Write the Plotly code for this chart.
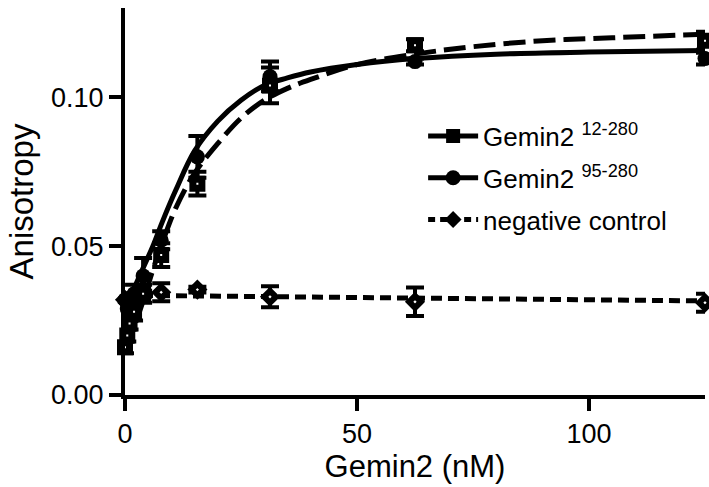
import plotly.graph_objects as go

# ---- data ----
conc = [0, 0.49, 0.98, 1.95, 3.9, 7.8, 15.6, 31.25, 62.5, 125]

g12_y = [0.016, 0.020, 0.024, 0.028, 0.034, 0.047, 0.071, 0.104, 0.1175, 0.119]
g12_err = [0.002, 0.002, 0.002, 0.003, 0.003, 0.004, 0.004, 0.006, 0.002, 0.003]

g95_y = [0.032, 0.029, 0.031, 0.034, 0.040, 0.052, 0.080, 0.107, 0.112, 0.113]
g95_err = [0.002, 0.002, 0.003, 0.003, 0.006, 0.003, 0.007, 0.005, 0.001, 0.002]

neg_y = [0.032, 0.031, 0.032, 0.033, 0.034, 0.0345, 0.0354, 0.033, 0.0313, 0.031]
neg_err = [0.001, 0.001, 0.001, 0.001, 0.001, 0.003, 0.001, 0.0035, 0.0048, 0.003]

# fitted curves
fit12_x = [0, 1, 2, 4, 6, 8, 11, 15, 20, 25, 30, 35, 40, 50, 62.5, 75, 90, 105, 125]
fit12_y = [0.015, 0.019, 0.023, 0.032, 0.042, 0.051, 0.063, 0.0745, 0.0845, 0.093,
           0.099, 0.103, 0.106, 0.111, 0.1145, 0.117, 0.119, 0.120, 0.1212]

fit95_x = [0, 2, 4, 6, 8, 11, 15, 20, 25, 30, 35, 40, 50, 62.5, 80, 100, 125]
fit95_y = [0.029, 0.036, 0.043, 0.050, 0.058, 0.069, 0.082, 0.092, 0.099, 0.104,
           0.1065, 0.1085, 0.111, 0.113, 0.1145, 0.1152, 0.1157]

fitneg_x = [0, 125]
fitneg_y = [0.0335, 0.0316]

names = ["Gemin2 <sup>12-280</sup>", "Gemin2 <sup>95-280</sup>", "negative control"]

x_ticks = [0, 50, 100]
y_ticks = [0.00, 0.05, 0.10]
y_ticktext = ["0.00", "0.05", "0.10"]

FONT = "Liberation Sans, Arial, sans-serif"
BLACK = "black"

fig = go.Figure()

# fit lines
fig.add_trace(go.Scatter(x=fit12_x, y=fit12_y, mode="lines", line_shape="spline",
                         line=dict(color=BLACK, width=5, dash="22px,8px"),
                         showlegend=False, cliponaxis=False, hoverinfo="skip"))
fig.add_trace(go.Scatter(x=fit95_x, y=fit95_y, mode="lines", line_shape="spline",
                         line=dict(color=BLACK, width=5),
                         showlegend=False, cliponaxis=False, hoverinfo="skip"))
fig.add_trace(go.Scatter(x=fitneg_x, y=fitneg_y, mode="lines",
                         line=dict(color=BLACK, width=5, dash="11px,6px"),
                         showlegend=False, cliponaxis=False, hoverinfo="skip"))

eb = dict(type="data", color=BLACK, thickness=4, width=9)

fig.add_trace(go.Scatter(x=conc, y=neg_y, mode="markers",
                         error_y=dict(array=neg_err, **eb),
                         marker=dict(symbol="diamond", size=9, color="white",
                                     line=dict(color=BLACK, width=6)),
                         showlegend=False, cliponaxis=False))
fig.add_trace(go.Scatter(x=conc, y=g95_y, mode="markers",
                         error_y=dict(array=g95_err, **eb),
                         marker=dict(symbol="circle", size=15, color=BLACK,
                                     line=dict(color=BLACK, width=0)),
                         showlegend=False, cliponaxis=False))
fig.add_trace(go.Scatter(x=conc, y=g12_y, mode="markers",
                         error_y=dict(array=g12_err, **eb),
                         marker=dict(symbol="square", size=9, color="white",
                                     line=dict(color=BLACK, width=7)),
                         showlegend=False, cliponaxis=False))

# legend entries
fig.add_trace(go.Scatter(x=[None], y=[None], mode="lines+markers", name=names[0],
                         legendgroup="a",
                         line=dict(color=BLACK, width=5),
                         marker=dict(symbol="square", size=11, color=BLACK,
                                     line=dict(color=BLACK, width=3))))
fig.add_trace(go.Scatter(x=[None], y=[None], mode="lines+markers", name=names[1],
                         legendgroup="b",
                         line=dict(color=BLACK, width=5),
                         marker=dict(symbol="circle", size=15, color=BLACK)))
fig.add_trace(go.Scatter(x=[None], y=[None], mode="lines+markers", name=names[2],
                         legendgroup="c",
                         line=dict(color=BLACK, width=5, dash="7px,5px"),
                         marker=dict(symbol="diamond", size=13, color=BLACK)))

axis_common = dict(showline=True, linecolor=BLACK, linewidth=4, ticks="outside",
                   ticklen=12, tickwidth=4, tickcolor=BLACK, showgrid=False,
                   zeroline=False, tickfont=dict(family=FONT, size=27, color=BLACK))

fig.update_layout(
    width=709, height=487,
    margin=dict(l=125, r=4, t=8, b=92),
    paper_bgcolor="white", plot_bgcolor="white",
    font=dict(family=FONT, color=BLACK),
    xaxis=dict(range=[0, 125], tickvals=x_ticks,
               title=dict(text="Gemin2 (nM)", font=dict(family=FONT, size=31), standoff=4),
               **axis_common),
    yaxis=dict(range=[0, 0.13], tickvals=y_ticks, ticktext=y_ticktext,
               title=dict(text="Anisotropy", font=dict(family=FONT, size=33), standoff=8),
               **axis_common),
    legend=dict(x=0.514, y=0.73, xanchor="left", yanchor="top",
                bgcolor="rgba(0,0,0,0)", font=dict(family=FONT, size=26, color=BLACK),
                itemwidth=50, tracegroupgap=5),
    showlegend=True,
)

fig.write_html("out.html")
